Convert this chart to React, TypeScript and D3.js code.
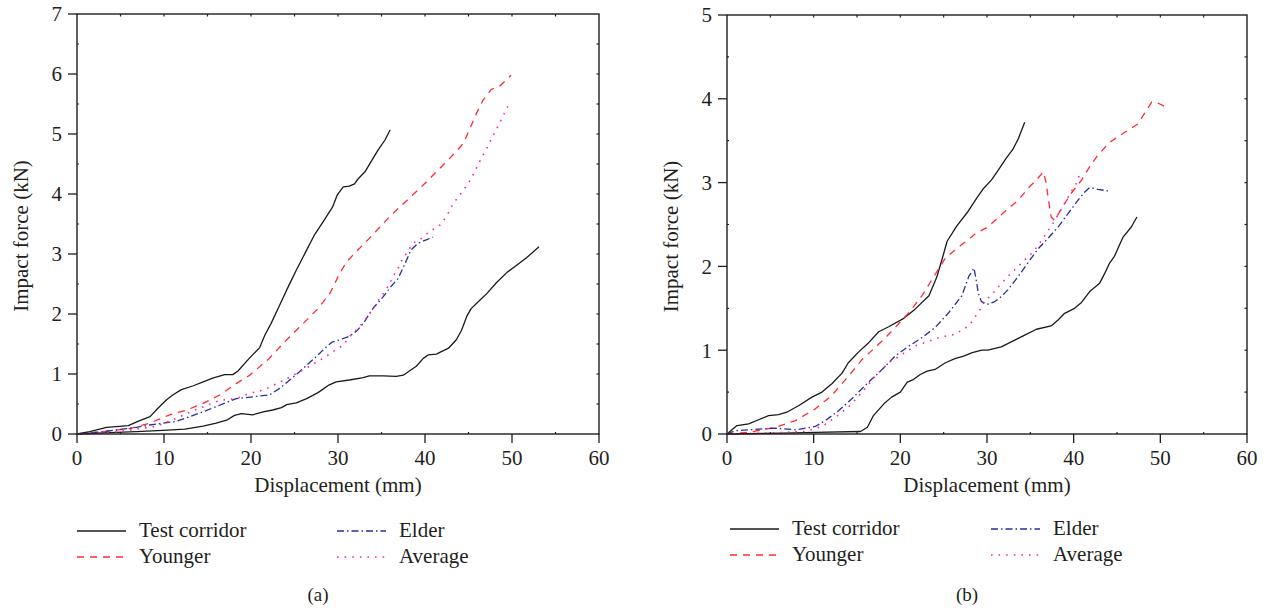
import React from "react";
import * as d3 from "d3";

// ---------- Panel (a) data ----------
const aCorrUpX = [0, 1.46, 3.4, 5.9, 7.0, 8.4, 9.3, 10.3, 11.0, 12.0, 13.3, 14.5, 15.6, 16.97, 17.9, 18.5, 19.8, 21.0, 21.6, 22.3, 23.3, 24.3, 25.2, 26.2, 27.3, 28.3, 29.4, 29.9, 30.6, 31.3, 31.9, 32.3, 33.1, 33.8, 34.6, 35.4, 36.0];
const aCorrUpY = [0, 0.04, 0.11, 0.14, 0.21, 0.29, 0.43, 0.57, 0.65, 0.74, 0.8, 0.87, 0.93, 0.99, 0.99, 1.05, 1.26, 1.44, 1.65, 1.84, 2.15, 2.46, 2.73, 3.01, 3.32, 3.54, 3.79, 3.98, 4.12, 4.13, 4.17, 4.25, 4.37, 4.54, 4.73, 4.9, 5.07];
const aCorrLoX = [0, 3.0, 6.8, 9.9, 12.4, 14.5, 16.0, 17.2, 18.1, 18.9, 20.2, 21.4, 22.5, 23.5, 24.1, 25.2, 26.4, 27.7, 29.0, 29.8, 31.3, 32.9, 33.6, 35.2, 36.7, 37.5, 39.0, 39.8, 40.4, 41.3, 42.7, 43.6, 44.2, 44.8, 45.3, 46.3, 47.1, 48.2, 49.4, 50.5, 51.7, 53.1];
const aCorrLoY = [0, 0.02, 0.04, 0.06, 0.08, 0.13, 0.18, 0.23, 0.31, 0.34, 0.32, 0.37, 0.4, 0.44, 0.49, 0.52, 0.59, 0.69, 0.82, 0.87, 0.9, 0.94, 0.97, 0.97, 0.96, 0.98, 1.13, 1.26, 1.32, 1.33, 1.43, 1.57, 1.73, 1.96, 2.09, 2.23, 2.34, 2.52, 2.69, 2.81, 2.94, 3.12];
const aYoungX = [0, 3.0, 6.05, 8.35, 10.65, 12.6, 14.5, 16.4, 18.3, 19.85, 22.1, 24.1, 26.0, 27.7, 29.1, 30.2, 31.0, 31.9, 33.6, 35.2, 36.7, 38.2, 39.8, 41.3, 42.8, 44.4, 45.1, 45.9, 46.7, 47.6, 48.6, 49.9];
const aYoungY = [0, 0.04, 0.09, 0.18, 0.32, 0.4, 0.51, 0.65, 0.84, 0.98, 1.26, 1.57, 1.84, 2.09, 2.35, 2.68, 2.87, 3.01, 3.26, 3.51, 3.73, 3.93, 4.15, 4.37, 4.59, 4.84, 5.07, 5.34, 5.57, 5.74, 5.8, 5.98];
const aElderX = [0, 3.0, 6.8, 8.35, 11.4, 14.5, 18.3, 22.1, 23.3, 25.6, 27.5, 28.5, 29.3, 30.2, 31.3, 32.1, 32.9, 34.0, 35.2, 36.1, 36.9, 37.7, 38.4, 39.2, 40.2, 40.9];
const aElderY = [0, 0.04, 0.11, 0.15, 0.21, 0.37, 0.59, 0.65, 0.76, 1.04, 1.29, 1.43, 1.53, 1.57, 1.63, 1.71, 1.84, 2.09, 2.29, 2.46, 2.59, 2.84, 3.07, 3.18, 3.24, 3.28];
const aAvgX = [0, 3.75, 6.8, 9.1, 11.4, 13.7, 16.4, 18.3, 19.85, 21.4, 23.7, 26.0, 27.7, 28.9, 29.6, 30.6, 31.3, 32.3, 33.1, 33.8, 34.4, 35.2, 35.8, 36.3, 36.9, 37.4, 38.1, 38.6, 39.6, 40.5, 41.7, 42.5, 43.0, 43.6, 44.4, 45.1, 45.6, 46.1, 46.6, 47.1, 47.6, 48.1, 48.6, 49.1, 49.6];
const aAvgY = [0, 0.02, 0.08, 0.13, 0.26, 0.41, 0.56, 0.59, 0.68, 0.73, 0.89, 1.07, 1.21, 1.32, 1.39, 1.48, 1.62, 1.76, 1.9, 2.04, 2.18, 2.34, 2.47, 2.62, 2.76, 2.91, 3.06, 3.18, 3.26, 3.37, 3.48, 3.63, 3.78, 3.91, 4.06, 4.21, 4.34, 4.49, 4.63, 4.76, 4.91, 5.05, 5.19, 5.34, 5.48];

// ---------- Panel (b) data ----------
const bCorrUpX = [0, 1.15, 2.5, 3.65, 4.8, 5.96, 6.9, 8.3, 9.8, 10.96, 12.1, 13.3, 14.0, 15.2, 16.35, 17.5, 18.65, 20.4, 21.7, 23.3, 24.2, 24.8, 25.4, 26.5, 27.7, 28.85, 29.6, 30.5, 31.3, 32.2, 33.0, 33.6, 34.35];
const bCorrUpY = [0, 0.1, 0.12, 0.17, 0.22, 0.23, 0.26, 0.34, 0.44, 0.5, 0.6, 0.73, 0.85, 0.98, 1.09, 1.22, 1.28, 1.38, 1.49, 1.65, 1.87, 2.08, 2.3, 2.48, 2.64, 2.82, 2.93, 3.03, 3.15, 3.29, 3.4, 3.52, 3.72];
const bCorrLoX = [0, 6.3, 10.2, 15.4, 16.2, 16.9, 18.1, 19.0, 20.0, 20.8, 21.5, 22.3, 23.1, 24.0, 25.2, 26.3, 27.3, 28.3, 29.4, 30.1, 31.65, 33.2, 34.35, 35.7, 37.4, 38.2, 38.96, 40.1, 40.9, 41.85, 43.0, 43.6, 44.15, 44.7, 45.7, 46.65, 47.3];
const bCorrLoY = [0, 0.01, 0.02, 0.03, 0.08, 0.22, 0.36, 0.44, 0.5, 0.62, 0.65, 0.71, 0.75, 0.77, 0.85, 0.9, 0.93, 0.97, 1.0, 1.0, 1.04, 1.12, 1.18, 1.25, 1.29, 1.36, 1.44, 1.5, 1.57, 1.7, 1.8, 1.92, 2.04, 2.12, 2.35, 2.47, 2.59];
const bYoungX = [0, 2.5, 5.6, 7.9, 10.2, 12.1, 14.0, 15.6, 17.9, 19.4, 21.0, 22.5, 24.0, 25.2, 27.1, 28.8, 30.1, 32.0, 33.6, 34.9, 35.7, 36.5, 36.8, 37.1, 37.4, 37.8, 38.6, 39.7, 40.9, 41.85, 42.8, 44.15, 45.9, 47.4, 49.0, 49.5, 50.7];
const bYoungY = [0, 0.02, 0.08, 0.16, 0.3, 0.46, 0.69, 0.89, 1.11, 1.27, 1.45, 1.65, 1.9, 2.1, 2.26, 2.4, 2.47, 2.65, 2.79, 2.95, 3.03, 3.13, 3.01, 2.79, 2.59, 2.55, 2.69, 2.87, 3.03, 3.19, 3.33, 3.48, 3.6, 3.7, 3.96, 3.96, 3.9];
const bElderX = [0, 1.0, 2.5, 5.6, 7.9, 10.2, 11.35, 12.9, 14.4, 16.35, 17.9, 19.4, 21.0, 22.5, 24.0, 25.6, 27.1, 27.9, 28.5, 28.8, 29.0, 29.35, 30.1, 30.9, 31.65, 32.4, 33.6, 34.7, 35.9, 37.0, 38.2, 39.35, 40.5, 41.3, 41.85, 42.8, 43.96];
const bElderY = [0, 0.04, 0.05, 0.07, 0.05, 0.09, 0.16, 0.28, 0.42, 0.62, 0.77, 0.93, 1.05, 1.15, 1.27, 1.45, 1.65, 1.88, 1.98, 1.81, 1.68, 1.58, 1.55, 1.58, 1.64, 1.72, 1.88, 2.04, 2.21, 2.33, 2.47, 2.63, 2.79, 2.89, 2.94, 2.92, 2.9];
const bAvgX = [0, 4.4, 9.0, 11.0, 12.5, 14.0, 15.6, 17.1, 18.65, 20.2, 21.7, 23.3, 24.8, 26.3, 27.9, 29.0, 29.7, 30.7, 31.5, 32.4, 33.4, 34.35, 35.3, 36.1, 36.8, 37.6, 38.4, 39.15, 39.7, 40.3, 40.7];
const bAvgY = [0, 0.01, 0.03, 0.09, 0.2, 0.32, 0.5, 0.69, 0.85, 0.95, 1.05, 1.11, 1.16, 1.19, 1.29, 1.45, 1.58, 1.68, 1.78, 1.88, 1.98, 2.08, 2.17, 2.28, 2.39, 2.51, 2.65, 2.79, 2.89, 2.99, 3.1];

const xTicks = [0, 10, 20, 30, 40, 50, 60];
const aYTicks = [0, 1, 2, 3, 4, 5, 6, 7];
const bYTicks = [0, 1, 2, 3, 4, 5];
const legendNames = ["Test corridor", "Younger", "Elder", "Average"];

const FONT = "'Liberation Serif', 'Times New Roman', serif";
const TXT = "#231f20";
const AX = "#1e1e1e";
const FS = 21;

const STYLES = {
  corr: { stroke: "#1a1a1a", dash: "none", width: 1.3 },
  young: { stroke: "#ff2a35", dash: "7,6", width: 1.3 },
  elder: { stroke: "#25309a", dash: "7,3,1.5,3", width: 1.3 },
  avg: { stroke: "#ff22a8", dash: "1.6,6", width: 1.6 },
};

type Series = { xs: number[]; ys: number[]; style: keyof typeof STYLES };

function zip(xs: number[], ys: number[]): [number, number][] {
  return xs.map((x, i) => [x, ys[i]]);
}

function Panel(props: {
  left: number; right: number; top: number; bottom: number;
  yMax: number; yTicks: number[]; series: Series[]; label: string;
  legendX: number; legendElderX: number; legendY: number;
}) {
  const { left, right, top, bottom, yMax, yTicks, series, label, legendX, legendElderX, legendY } = props;
  const x = d3.scaleLinear().domain([0, 60]).range([left, right]);
  const y = d3.scaleLinear().domain([0, yMax]).range([bottom, top]);
  const line = d3.line<[number, number]>().x((d) => x(d[0])).y((d) => y(d[1]));
  const minorX = d3.range(5, 60, 10);
  const minorY = d3.range(0.5, yMax, 1);
  const allY = d3.range(0.5, yMax, 0.5);
  const allX = d3.range(5, 60, 5);
  const cx = (left + right) / 2;
  const legendItems = [
    { name: legendNames[0], st: STYLES.corr, lx: legendX, ly: legendY },
    { name: legendNames[1], st: STYLES.young, lx: legendX, ly: legendY + 26 },
    { name: legendNames[2], st: STYLES.elder, lx: legendElderX, ly: legendY },
    { name: legendNames[3], st: STYLES.avg, lx: legendElderX, ly: legendY + 26 },
  ];
  return (
    <g>
      {series.map((s, i) => {
        const st = STYLES[s.style];
        return (
          <path key={i} d={line(zip(s.xs, s.ys)) || ""} fill="none" stroke={st.stroke}
            strokeWidth={st.width} strokeDasharray={st.dash} strokeLinejoin="round" />
        );
      })}
      <rect x={left} y={top} width={right - left} height={bottom - top} fill="none" stroke={AX} strokeWidth={1.4} />
      {yTicks.map((t) => (
        <g key={"yl" + t}>
          <line x1={left - 9} x2={left} y1={y(t)} y2={y(t)} stroke={AX} strokeWidth={1.3} />
          <text x={left - 15} y={y(t)} dy="0.35em" textAnchor="end" fontFamily={FONT} fontSize={FS} fill={TXT}>{t}</text>
        </g>
      ))}
      {minorY.map((t) => (
        <line key={"ym" + t} x1={left} x2={left + 2} y1={y(t)} y2={y(t)} stroke={AX} strokeWidth={1.2} />
      ))}
      {allY.map((t) => (
        <line key={"yr" + t} x1={right - 2.5} x2={right} y1={y(t)} y2={y(t)} stroke={AX} strokeWidth={1.2} />
      ))}
      {allX.map((t) => (
        <line key={"xt" + t} x1={x(t)} x2={x(t)} y1={top} y2={top + 2.5} stroke={AX} strokeWidth={1.2} />
      ))}
      {xTicks.map((t) => (
        <g key={"xb" + t}>
          <line x1={x(t)} x2={x(t)} y1={bottom} y2={bottom + 9} stroke={AX} strokeWidth={1.3} />
          <text x={x(t)} y={bottom + 24} dy="0.35em" textAnchor="middle" fontFamily={FONT} fontSize={FS} fill={TXT}>{t}</text>
        </g>
      ))}
      {minorX.map((t) => (
        <line key={"xm" + t} x1={x(t)} x2={x(t)} y1={bottom} y2={bottom - 2} stroke={AX} strokeWidth={1.2} />
      ))}
      <text x={cx} y={bottom + 51} dy="0.35em" textAnchor="middle" fontFamily={FONT} fontSize={FS} fill={TXT}>Displacement (mm)</text>
      <text transform={`translate(${left - 56},${(top + bottom) / 2 + 12}) rotate(-90)`} textAnchor="middle" dy="0.35em"
        fontFamily={FONT} fontSize={FS} fill={TXT}>Impact force (kN)</text>
      {legendItems.map((it, i) => (
        <g key={"lg" + i}>
          <line x1={it.lx} x2={it.lx + 49} y1={it.ly + 1} y2={it.ly + 1} stroke={it.st.stroke}
            strokeWidth={it.st.width} strokeDasharray={it.st.dash} />
          <text x={it.lx + 62} y={it.ly} dy="0.35em" fontFamily={FONT} fontSize={FS} fill={TXT}>{it.name}</text>
        </g>
      ))}
      <text x={cx - 20} y={594} dy="0.35em" textAnchor="middle" fontFamily={FONT} fontSize={19} fill={TXT}>{label}</text>
    </g>
  );
}

export default function App() {
  const seriesA: Series[] = [
    { xs: aCorrUpX, ys: aCorrUpY, style: "corr" },
    { xs: aCorrLoX, ys: aCorrLoY, style: "corr" },
    { xs: aYoungX, ys: aYoungY, style: "young" },
    { xs: aElderX, ys: aElderY, style: "elder" },
    { xs: aAvgX, ys: aAvgY, style: "avg" },
  ];
  const seriesB: Series[] = [
    { xs: bCorrUpX, ys: bCorrUpY, style: "corr" },
    { xs: bCorrLoX, ys: bCorrLoY, style: "corr" },
    { xs: bYoungX, ys: bYoungY, style: "young" },
    { xs: bElderX, ys: bElderY, style: "elder" },
    { xs: bAvgX, ys: bAvgY, style: "avg" },
  ];
  return (
    <svg width={1267} height={612} style={{ position: "absolute", left: 0, top: 0, background: "#fff" }}>
      <rect width={1267} height={612} fill="#fff" />
      <Panel left={77} right={599} top={14} bottom={434} yMax={7} yTicks={aYTicks} series={seriesA} label="(a)"
        legendX={77} legendElderX={337} legendY={530} />
      <Panel left={727} right={1247} top={15} bottom={434} yMax={5} yTicks={bYTicks} series={seriesB} label="(b)"
        legendX={730} legendElderX={991} legendY={528} />
    </svg>
  );
}
